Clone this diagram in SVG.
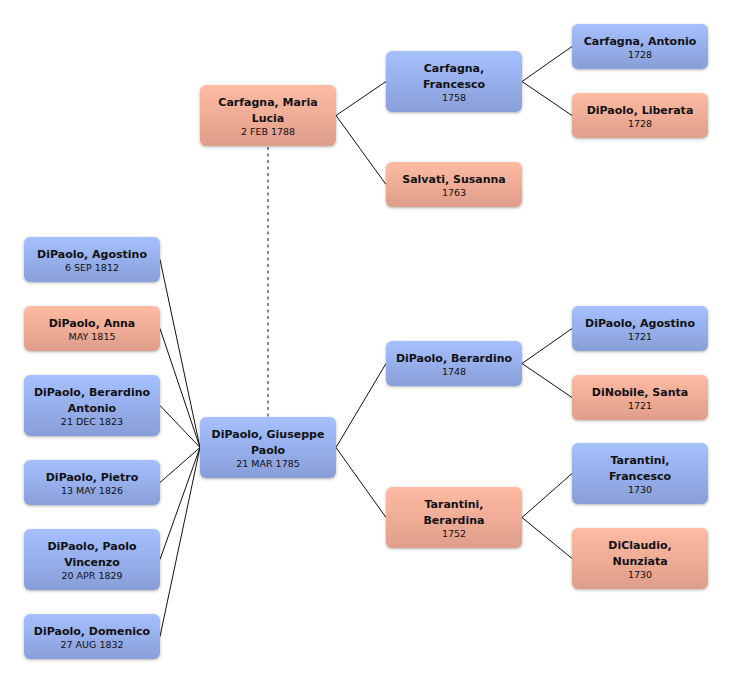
<svg xmlns="http://www.w3.org/2000/svg" width="732" height="683" viewBox="0 0 732 683">
<defs>
<linearGradient id="gb" x1="0" y1="0" x2="0" y2="1">
<stop offset="0" stop-color="#a6c0ff"/>
<stop offset="1" stop-color="#889ed8"/>
</linearGradient>
<linearGradient id="gp" x1="0" y1="0" x2="0" y2="1">
<stop offset="0" stop-color="#ffbba3"/>
<stop offset="1" stop-color="#df9e8a"/>
</linearGradient>
<filter id="sh" x="-20%" y="-30%" width="140%" height="160%">
<feDropShadow dx="0" dy="1" stdDeviation="1.6" flood-color="#000" flood-opacity="0.3"/>
</filter>
</defs>
<style>
.b{fill:url(#gb);filter:url(#sh)}
.p{fill:url(#gp);filter:url(#sh)}
.n{font-family:"DejaVu Sans","Liberation Sans",sans-serif;font-size:11px;font-weight:bold;fill:#111;text-anchor:middle}
.d{font-family:"DejaVu Sans","Liberation Sans",sans-serif;font-size:9.5px;fill:#111;text-anchor:middle}
.e{stroke:#111;stroke-width:1;fill:none}
.ds{stroke:#7a7a7a;stroke-width:1.8;stroke-dasharray:3,3.5;fill:none}
</style>
<rect width="732" height="683" fill="#fff"/>
<g id="connectors">
<line class="ds" x1="268" y1="147" x2="268" y2="417"/>
<path class="e" d="M336,115.5 L386,81.5 M336,115.5 L386,184.5"/>
<path class="e" d="M522,81.5 L572,46.5 M522,81.5 L572,115.5"/>
<path class="e" d="M336,447.5 L386,363.5 M336,447.5 L386,517.5"/>
<path class="e" d="M522,363.5 L572,328.5 M522,363.5 L572,397.5"/>
<path class="e" d="M522,517.5 L572,473.5 M522,517.5 L572,558.5"/>
<path class="e" d="M160,259.5 L200,447.5 M160,328.5 L200,447.5 M160,405.5 L200,447.5 M160,482.5 L200,447.5 M160,559.5 L200,447.5 M160,636.5 L200,447.5"/>
</g>
<g id="maria-lucia">
<rect class="p" x="200" y="85" width="136" height="61" rx="6"/>
<text class="n" x="268" y="106">Carfagna, Maria</text>
<text class="n" x="268" y="122">Lucia</text>
<text class="d" x="268" y="134.5">2 FEB 1788</text>
</g>
<g id="carfagna-francesco">
<rect class="b" x="386" y="51" width="136" height="61" rx="6"/>
<text class="n" x="454" y="72">Carfagna,</text>
<text class="n" x="454" y="88">Francesco</text>
<text class="d" x="454" y="100.5">1758</text>
</g>
<g id="salvati-susanna">
<rect class="p" x="386" y="162" width="136" height="45" rx="6"/>
<text class="n" x="454" y="183">Salvati, Susanna</text>
<text class="d" x="454" y="196">1763</text>
</g>
<g id="carfagna-antonio">
<rect class="b" x="572" y="24" width="136" height="45" rx="6"/>
<text class="n" x="640" y="45">Carfagna, Antonio</text>
<text class="d" x="640" y="58">1728</text>
</g>
<g id="dipaolo-liberata">
<rect class="p" x="572" y="93" width="136" height="45" rx="6"/>
<text class="n" x="640" y="114">DiPaolo, Liberata</text>
<text class="d" x="640" y="127">1728</text>
</g>
<g id="dipaolo-agostino-1812">
<rect class="b" x="24" y="237" width="136" height="45" rx="6"/>
<text class="n" x="92" y="258">DiPaolo, Agostino</text>
<text class="d" x="92" y="271">6 SEP 1812</text>
</g>
<g id="dipaolo-anna">
<rect class="p" x="24" y="306" width="136" height="45" rx="6"/>
<text class="n" x="92" y="327">DiPaolo, Anna</text>
<text class="d" x="92" y="340">MAY 1815</text>
</g>
<g id="dipaolo-berardino-antonio">
<rect class="b" x="24" y="375" width="136" height="61" rx="6"/>
<text class="n" x="92" y="396">DiPaolo, Berardino</text>
<text class="n" x="92" y="412">Antonio</text>
<text class="d" x="92" y="424.5">21 DEC 1823</text>
</g>
<g id="dipaolo-pietro">
<rect class="b" x="24" y="460" width="136" height="45" rx="6"/>
<text class="n" x="92" y="481">DiPaolo, Pietro</text>
<text class="d" x="92" y="494">13 MAY 1826</text>
</g>
<g id="dipaolo-paolo-vincenzo">
<rect class="b" x="24" y="529" width="136" height="61" rx="6"/>
<text class="n" x="92" y="550">DiPaolo, Paolo</text>
<text class="n" x="92" y="566">Vincenzo</text>
<text class="d" x="92" y="578.5">20 APR 1829</text>
</g>
<g id="dipaolo-domenico">
<rect class="b" x="24" y="614" width="136" height="45" rx="6"/>
<text class="n" x="92" y="635">DiPaolo, Domenico</text>
<text class="d" x="92" y="648">27 AUG 1832</text>
</g>
<g id="dipaolo-giuseppe-paolo">
<rect class="b" x="200" y="417" width="136" height="61" rx="6"/>
<text class="n" x="268" y="438">DiPaolo, Giuseppe</text>
<text class="n" x="268" y="454">Paolo</text>
<text class="d" x="268" y="466.5">21 MAR 1785</text>
</g>
<g id="dipaolo-berardino">
<rect class="b" x="386" y="341" width="136" height="45" rx="6"/>
<text class="n" x="454" y="362">DiPaolo, Berardino</text>
<text class="d" x="454" y="375">1748</text>
</g>
<g id="tarantini-berardina">
<rect class="p" x="386" y="487" width="136" height="61" rx="6"/>
<text class="n" x="454" y="508">Tarantini,</text>
<text class="n" x="454" y="524">Berardina</text>
<text class="d" x="454" y="536.5">1752</text>
</g>
<g id="dipaolo-agostino-1721">
<rect class="b" x="572" y="306" width="136" height="45" rx="6"/>
<text class="n" x="640" y="327">DiPaolo, Agostino</text>
<text class="d" x="640" y="340">1721</text>
</g>
<g id="dinobile-santa">
<rect class="p" x="572" y="375" width="136" height="45" rx="6"/>
<text class="n" x="640" y="396">DiNobile, Santa</text>
<text class="d" x="640" y="409">1721</text>
</g>
<g id="tarantini-francesco">
<rect class="b" x="572" y="443" width="136" height="61" rx="6"/>
<text class="n" x="640" y="464">Tarantini,</text>
<text class="n" x="640" y="480">Francesco</text>
<text class="d" x="640" y="492.5">1730</text>
</g>
<g id="diclaudio-nunziata">
<rect class="p" x="572" y="528" width="136" height="61" rx="6"/>
<text class="n" x="640" y="549">DiClaudio,</text>
<text class="n" x="640" y="565">Nunziata</text>
<text class="d" x="640" y="577.5">1730</text>
</g>
</svg>
